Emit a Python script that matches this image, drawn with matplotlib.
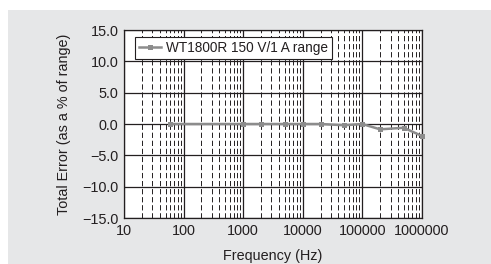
#!/usr/bin/env python3
"""Total error vs frequency, WT1800R 150 V/1 A range."""

import matplotlib
matplotlib.use('Agg')
import matplotlib.pyplot as plt
import matplotlib.ticker as mticker
from matplotlib.patches import Rectangle

plt.rcParams['font.family'] = ['Liberation Sans', 'DejaVu Sans']
plt.rcParams['lines.scale_dashes'] = False

# data
freq_hz = [60, 1000, 2000, 5000, 10000, 20000, 50000, 100000, 200000, 500000, 1000000]
total_error = [0.0, 0.0, 0.0, 0.0, 0.0, 0.0, -0.2, 0.0, -0.85, -0.6, -1.9]
series_label = 'WT1800R 150 V/1 A range'
y_ticks = [-15, -10, -5, 0, 5, 10, 15]
x_ticks = [10, 100, 1000, 10000, 100000, 1000000]

W, H, DPI = 491, 264, 100
FS = 10.4
INK = '#231f20'
fig = plt.figure(figsize=(W / DPI, H / DPI), dpi=DPI, facecolor='white')

# grey panel behind the chart
fig.patches.append(Rectangle((8 / W, 0), 1, (H - 10) / H, transform=fig.transFigure,
                             facecolor='#e6e7e8', edgecolor='none', zorder=-10))

ax = fig.add_axes([124 / W, (H - 218) / H, 297.7 / W, 188 / H])
ax.set_facecolor('white')

ax.set_xscale('log')
ax.set_xlim(10, 1e6)
ax.set_ylim(-15, 15)

ax.set_xticks(x_ticks)
ax.xaxis.set_major_formatter(mticker.FuncFormatter(lambda v, p: f'{int(round(v))}'))
ax.xaxis.set_minor_locator(mticker.LogLocator(base=10, subs=range(2, 10), numticks=20))
ax.xaxis.set_minor_formatter(mticker.NullFormatter())
ax.set_yticks(y_ticks)
ax.yaxis.set_major_formatter(mticker.FuncFormatter(lambda v, p: f'{v:.1f}'.replace('-', '\u2212')))

ax.tick_params(which='both', length=0, labelsize=FS, colors=INK, pad=4)

ax.grid(True, which='major', axis='both', color=INK, linewidth=0.9)
ax.grid(True, which='minor', axis='x', color=INK, linewidth=0.7,
        linestyle=(0, (3.8, 2.0)))
ax.set_axisbelow(True)
for s in ax.spines.values():
    s.set_color(INK)
    s.set_linewidth(0.9)

ax.plot(freq_hz, total_error, color='#8c8c8c', linewidth=1.8, marker='s',
        markersize=3.6, markeredgewidth=0, label=series_label, zorder=3,
        clip_on=False)

ax.set_xlabel('Frequency (Hz)', fontsize=FS, color=INK, labelpad=8)
ax.set_ylabel('Total Error (as a % of range)', fontsize=FS, color=INK, labelpad=8)

leg = ax.legend(loc='upper left', bbox_to_anchor=(0.037, 0.962), borderaxespad=0,
                fontsize=9.8, frameon=True, fancybox=False, handlelength=1.6,
                handletextpad=0.4, borderpad=0.3, labelcolor=INK)
leg.get_frame().set_edgecolor(INK)
leg.get_frame().set_linewidth(0.8)
leg.get_frame().set_alpha(1)

fig.savefig('out.png', dpi=DPI, facecolor='white')
